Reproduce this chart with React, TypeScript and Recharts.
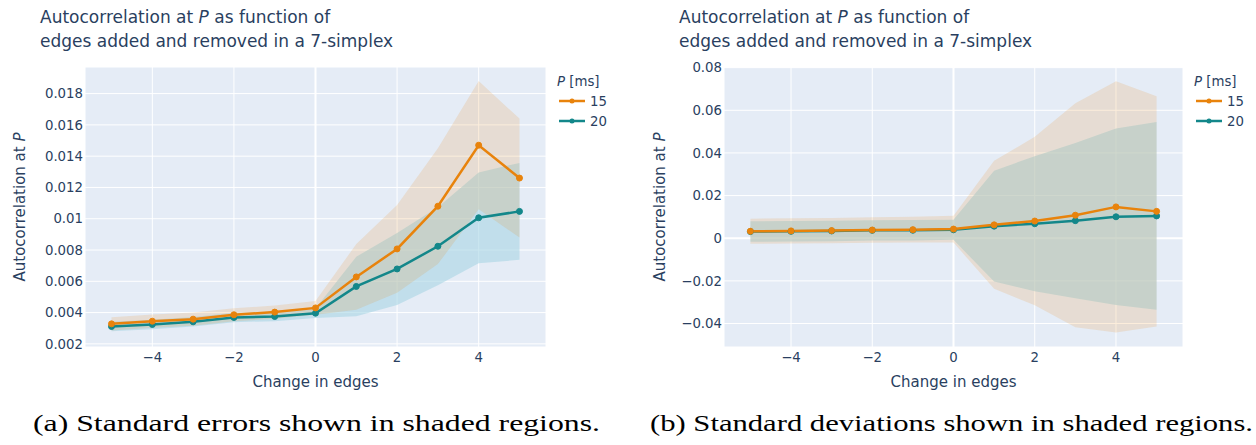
import React from 'react';
import {
  ComposedChart,
  Area,
  Line,
  XAxis,
  YAxis,
  CartesianGrid
} from 'recharts';

// change in edges (x) and mean autocorrelation for P = 15 ms and P = 20 ms
const edges = [-5, -4, -3, -2, -1, 0, 1, 2, 3, 4, 5];
const mean15 = [0.00328, 0.00345, 0.00358, 0.00386, 0.00403, 0.0043, 0.00628, 0.00807, 0.0108, 0.0147, 0.0126];
const mean20 = [0.00311, 0.00324, 0.00341, 0.00369, 0.00375, 0.00396, 0.00567, 0.00679, 0.00824, 0.01006, 0.01047];

// standard errors
const se15 = [0.00042, 0.00042, 0.00042, 0.00042, 0.00042, 0.00044, 0.0021, 0.0028, 0.0037, 0.0041, 0.0038];
const se20 = [0.0003, 0.0003, 0.0003, 0.0003, 0.0003, 0.0003, 0.0019, 0.0023, 0.0025, 0.0029, 0.0031];

// standard deviations
const sd15 = [0.0059, 0.0059, 0.0059, 0.006, 0.006, 0.0063, 0.03, 0.0395, 0.0525, 0.0589, 0.054];
const sd20 = [0.0048, 0.0048, 0.0048, 0.0048, 0.0048, 0.0047, 0.026, 0.0317, 0.0364, 0.0414, 0.044];

const xTicks = [-4, -2, 0, 2, 4];
const seTicks = [0.002, 0.004, 0.006, 0.008, 0.01, 0.012, 0.014, 0.016, 0.018];
const sdTicks = [-0.04, -0.02, 0, 0.02, 0.04, 0.06, 0.08];

const ORANGE = '#e8830c';
const TEAL = '#13878a';
const TEXT = '#2a3f5f';
const SANS = '"DejaVu Sans", sans-serif';
const SERIF = '"Liberation Serif", "Times New Roman", serif';

const buildRows = (err15: number[], err20: number[]) =>
  edges.map((x, i) => ({
    x,
    m15: mean15[i],
    m20: mean20[i],
    band15: [mean15[i] - err15[i], mean15[i] + err15[i]],
    band20: [mean20[i] - err20[i], mean20[i] + err20[i]]
  }));

const fmt = (v: number) => {
  const s = Number(v.toFixed(3)).toString();
  return s.replace('-', '\u2212');
};

// white grid lines, the zero line drawn a bit wider
const gridLine = (zeroIndex: number) => (p: any) => (
  <line
    key={p.key}
    x1={p.x1}
    y1={p.y1}
    x2={p.x2}
    y2={p.y2}
    stroke="#ffffff"
    strokeWidth={p.index === zeroIndex ? 2 : 1}
  />
);

const LegendBox: React.FC<{ x: number }> = ({ x }) => (
  <svg width={80} height={70} style={{ position: 'absolute', left: x, top: 65, overflow: 'visible' }}>
    <text x={3} y={21} fontFamily={SANS} fontSize={13.3} fill={TEXT}>
      <tspan fontStyle="italic">P</tspan> [ms]
    </text>
    {[
      { label: '15', color: ORANGE, y: 36 },
      { label: '20', color: TEAL, y: 56 }
    ].map((it) => (
      <g key={it.label}>
        <line x1={5} x2={31} y1={it.y} y2={it.y} stroke={it.color} strokeWidth={2.5} />
        <circle cx={18} cy={it.y} r={2.5} fill={it.color} />
        <text x={36} y={it.y + 5} fontFamily={SANS} fontSize={13.3} fill={TEXT}>{it.label}</text>
      </g>
    ))}
  </svg>
);

interface PanelProps {
  left: number;
  width: number;
  plotLeft: number;
  plotRight: number;
  rows: ReturnType<typeof buildRows>;
  yDomain: [number, number];
  yTicks: number[];
  caption: string;
  captionX: number;
  captionWidth: number;
}

const Panel: React.FC<PanelProps> = ({
  left, width, plotLeft, plotRight, rows, yDomain, yTicks, caption, captionX, captionWidth
}) => {
  const yAxisWidth = 60;
  return (
    <div style={{ position: 'absolute', left, top: 0, width, height: 445 }}>
      <div
        style={{
          position: 'absolute', left: plotLeft - 45, top: 5, fontFamily: SANS,
          fontSize: 17, lineHeight: '24px', color: TEXT, whiteSpace: 'nowrap'
        }}
      >
        Autocorrelation at <i>P</i> as function of<br />
        edges added and removed in a 7-simplex
      </div>
      <ComposedChart
        width={width}
        height={400}
        data={rows}
        margin={{ top: 67, right: width - plotRight, bottom: 13, left: plotLeft - yAxisWidth }}
        style={{ position: 'absolute', left: 0, top: 0 }}
      >
        <CartesianGrid
          fill="#e5ecf6"
          fillOpacity={1}
          stroke="#ffffff"
          horizontal={gridLine(yTicks.indexOf(0))}
          vertical={gridLine(xTicks.indexOf(0))}
        />
        <XAxis
          type="number"
          dataKey="x"
          domain={[-5.65, 5.65]}
          ticks={xTicks}
          tickFormatter={fmt}
          axisLine={false}
          tickLine={false}
          tickSize={0}
          tickMargin={6}
          height={40}
          tick={{ fill: TEXT, fontSize: 13.3, fontFamily: SANS }}
          allowDataOverflow
          label={(p: any) => (
            <text
              x={p.viewBox.x + p.viewBox.width / 2}
              y={p.viewBox.y + 40}
              textAnchor="middle"
              fontFamily={SANS}
              fontSize={15}
              fill={TEXT}
            >
              Change in edges
            </text>
          )}
        />
        <YAxis
          type="number"
          domain={yDomain}
          ticks={yTicks}
          tickFormatter={fmt}
          axisLine={false}
          tickLine={false}
          tickSize={0}
          tickMargin={2}
          width={yAxisWidth}
          tick={{ fill: TEXT, fontSize: 13.3, fontFamily: SANS }}
          allowDataOverflow
          label={(p: any) => {
            const cx = 20;
            const cy = p.viewBox.y + p.viewBox.height / 2;
            return (
              <text
                x={cx}
                y={cy}
                transform={`rotate(-90 ${cx} ${cy})`}
                textAnchor="middle"
                dominantBaseline="central"
                fontFamily={SANS}
                fontSize={15}
                fill={TEXT}
              >
                Autocorrelation at <tspan fontStyle="italic">P</tspan>
              </text>
            );
          }}
        />
        <Area
          type="linear"
          dataKey="band20"
          stroke="none"
          fill="#a9d6e5"
          fillOpacity={0.6}
          isAnimationActive={false}
        />
        <Area
          type="linear"
          dataKey="band15"
          stroke="none"
          fill={ORANGE}
          fillOpacity={0.15}
          isAnimationActive={false}
        />
        <Line
          type="linear"
          dataKey="m20"
          stroke={TEAL}
          strokeWidth={2.5}
          dot={{ r: 3, fill: TEAL, stroke: TEAL, strokeWidth: 1 }}
          isAnimationActive={false}
        />
        <Line
          type="linear"
          dataKey="m15"
          stroke={ORANGE}
          strokeWidth={2.5}
          dot={{ r: 3, fill: ORANGE, stroke: ORANGE, strokeWidth: 1 }}
          isAnimationActive={false}
        />
      </ComposedChart>
      <LegendBox x={plotRight + 8} />
      <svg style={{ position: 'absolute', left: 0, top: 400 }} width={width} height={45}>
        <text
          x={captionX - left}
          y={31}
          fontFamily={SERIF}
          fontSize={24}
          fill="#000000"
          textLength={captionWidth}
          lengthAdjust="spacingAndGlyphs"
        >
          {caption}
        </text>
      </svg>
    </div>
  );
};

const App: React.FC = () => (
  <div style={{ position: 'absolute', left: 0, top: 0, width: 1256, height: 445, background: '#ffffff' }}>
    <Panel
      left={0}
      width={630}
      plotLeft={85}
      plotRight={546}
      rows={buildRows(se15, se20)}
      yDomain={[0.0018, 0.0197]}
      yTicks={seTicks}
      caption="(a) Standard errors shown in shaded regions."
      captionX={33}
      captionWidth={567}
    />
    <Panel
      left={640}
      width={616}
      plotLeft={84}
      plotRight={543}
      rows={buildRows(sd15, sd20)}
      yDomain={[-0.051, 0.0803]}
      yTicks={sdTicks}
      caption="(b) Standard deviations shown in shaded regions."
      captionX={650}
      captionWidth={603}
    />
  </div>
);

export default App;
